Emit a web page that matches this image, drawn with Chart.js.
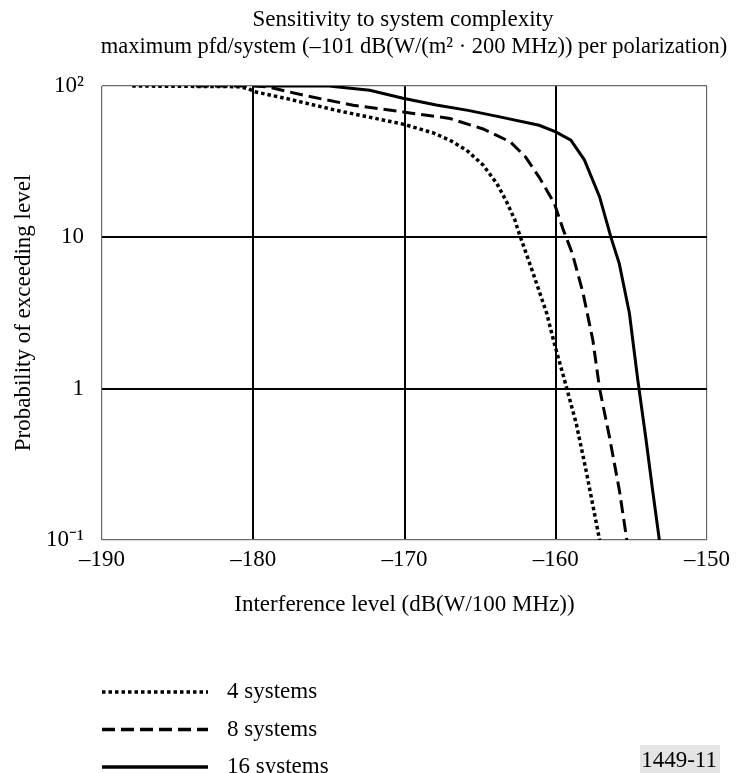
<!DOCTYPE html>
<html>
<head>
<meta charset="utf-8">
<script src="https://cdn.jsdelivr.net/npm/chart.js@4/dist/chart.umd.min.js"></script>
<style>
  html, body { margin: 0; padding: 0; background: #fff; }
  #wrap { width: 738px; height: 773px; }
</style>
</head>
<body>
<div id="wrap"><canvas id="c" width="738" height="773"></canvas></div>
<script>
// ---- data ----
const titleText = 'Sensitivity to system complexity';
const subtitleText = 'maximum pfd/system (\u2013101 dB(W/(m\u00B2 \u00B7 200 MHz)) per polarization)';
const xTitle = 'Interference level (dB(W/100 MHz))';
const yTitle = 'Probability of exceeding level';
const figureId = '1449-11';

const seriesNames = ['4 systems', '8 systems', '16 systems'];

const xTickValues = [-190, -180, -170, -160, -150];
const xTickLabels = ['\u2013190', '\u2013180', '\u2013170', '\u2013160', '\u2013150'];
const yTickValues = [0.1, 1, 10, 100];
const yTickLabels = ['10\u207B\u00B9', '1', '10', '10\u00B2'];

const x4 = [-188, -181, -180.3, -180, -177.8, -174.5, -170.1, -168.1, -167, -165.9, -164.8, -163.9, -163.3, -162.7, -162.5, -161.5, -160.6, -160.1, -159.3, -158.65, -158, -157.1];
const y4 = [100, 99, 96, 92, 82.6, 69, 56, 49, 43.8, 37.7, 30, 22.7, 17.6, 13, 11.2, 5.8, 3.15, 2.0, 1.03, 0.59, 0.29, 0.1];

const x8 = [-183.8, -180, -179, -176.7, -173.4, -170.1, -167, -164.8, -163, -162, -161.1, -160.1, -159.5, -158.9, -158.2, -157.55, -157.1, -156.45, -155.8, -155.3];
const y8 = [100, 100, 98.5, 87, 74.6, 67.4, 61, 52, 42.7, 34, 25, 16.8, 11.2, 7.8, 4.3, 2.1, 1.0, 0.48, 0.215, 0.1];

const x16 = [-179.5, -175, -172.3, -170.1, -167.9, -165.8, -163.7, -161.1, -160, -159, -158.1, -157.1, -156.35, -155.8, -155.13, -154.58, -154.03, -153.6, -153.15];
const y16 = [100, 100, 93.6, 83, 75, 69, 62.5, 55, 49.8, 43.8, 32.4, 18.5, 10, 6.7, 3.15, 1.15, 0.46, 0.215, 0.1];

// ---- styles ----
const FONT = "'Liberation Serif', 'Times New Roman', serif";
const FS = 23;
const dashes = [[3.5, 3], [13, 6], []];
const widths = [3.5, 3, 3];
const toPts = (xs, ys) => xs.map((x, i) => ({ x: x, y: ys[i] }));
const seriesX = [x4, x8, x16];
const seriesY = [y4, y8, y16];

const datasets = seriesNames.map((name, i) => ({
  label: name,
  data: toPts(seriesX[i], seriesY[i]),
  borderColor: '#000',
  borderWidth: widths[i],
  borderDash: dashes[i],
  borderCapStyle: 'butt',
  pointRadius: 0,
  tension: 0,
  fill: false
}));

const edgeColor = (ctx) => {
  const n = ctx.scale.ticks.length - 1;
  return (ctx.index === 0 || ctx.index === n) ? '#6a6a6a' : '#000';
};
const edgeWidth = (ctx) => {
  const n = ctx.scale.ticks.length - 1;
  return (ctx.index === 0 || ctx.index === n) ? 1.2 : 2;
};

const decorPlugin = {
  id: 'decor',
  afterDraw(chart) {
    const ctx = chart.ctx;
    ctx.save();
    ctx.fillStyle = '#000';
    ctx.font = FS + 'px ' + FONT;
    ctx.textAlign = 'center';
    ctx.textBaseline = 'alphabetic';
    ctx.fillText(titleText, 403, 26);
    ctx.font = '22.5px ' + FONT;
    ctx.fillText(subtitleText, 414, 53);
    ctx.font = FS + 'px ' + FONT;

    // legend
    const rows = [692, 729.5, 767];
    chart.data.datasets.forEach((ds, i) => {
      ctx.beginPath();
      ctx.setLineDash(ds.borderDash || []);
      ctx.lineCap = 'butt';
      ctx.lineWidth = 3.5;
      ctx.strokeStyle = '#000';
      ctx.moveTo(102, rows[i]);
      ctx.lineTo(208, rows[i]);
      ctx.stroke();
      ctx.setLineDash([]);
      ctx.textAlign = 'left';
      ctx.textBaseline = 'middle';
      ctx.fillStyle = '#000';
      ctx.fillText(ds.label, 227, rows[i]);
    });

    // figure id
    ctx.fillStyle = '#e4e4e4';
    ctx.fillRect(640, 745, 80, 28);
    ctx.fillStyle = '#000';
    ctx.textAlign = 'right';
    ctx.textBaseline = 'alphabetic';
    ctx.fillText(figureId, 717, 767);
    ctx.restore();
  }
};

new Chart(document.getElementById('c'), {
  type: 'line',
  data: { datasets: datasets },
  options: {
    responsive: false,
    animation: false,
    devicePixelRatio: 1,
    layout: { padding: { top: 86, right: 31, left: 0, bottom: 0 } },
    plugins: {
      legend: { display: false },
      tooltip: { enabled: false },
      title: { display: false }
    },
    scales: {
      x: {
        type: 'linear',
        min: -190, max: -150,
        afterBuildTicks: (s) => { s.ticks = xTickValues.map(v => ({ value: v })); },
        afterFit: (s) => { s.height = 233; },
        ticks: {
          callback: (v) => { const i = xTickValues.indexOf(v); return i >= 0 ? xTickLabels[i] : ''; },
          font: { family: FONT, size: FS },
          color: '#000',
          padding: 6,
          maxRotation: 0
        },
        grid: { color: edgeColor, lineWidth: edgeWidth, drawTicks: false },
        border: { display: false },
        title: {
          display: true, text: xTitle, color: '#000',
          font: { family: FONT, size: FS },
          padding: { top: 0, bottom: 154 }
        }
      },
      y: {
        type: 'logarithmic',
        min: 0.1, max: 100,
        afterBuildTicks: (s) => { s.ticks = yTickValues.map(v => ({ value: v, major: true })); },
        afterFit: (s) => { s.width = 102; },
        ticks: {
          callback: (v) => { const i = yTickValues.findIndex(t => Math.abs(t - v) < 1e-9); return i >= 0 ? yTickLabels[i] : ''; },
          font: { family: FONT, size: FS },
          color: '#000',
          padding: 18
        },
        grid: { color: edgeColor, lineWidth: edgeWidth, drawTicks: false },
        border: { display: false },
        title: {
          display: true, text: yTitle, color: '#000',
          font: { family: FONT, size: FS },
          padding: { top: 10, bottom: 0 }
        }
      }
    }
  },
  plugins: [decorPlugin]
});
</script>
</body>
</html>
